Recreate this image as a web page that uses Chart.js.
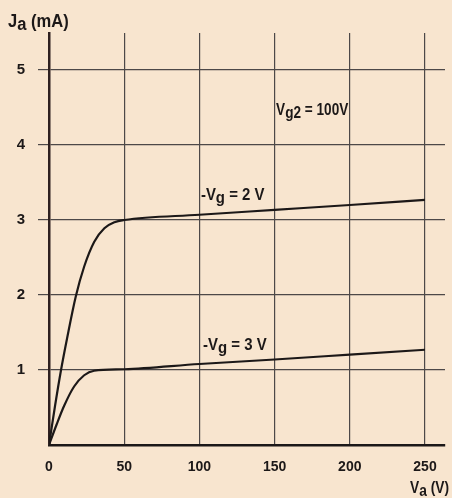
<!DOCTYPE html>
<html><head><meta charset="utf-8">
<script src="https://cdn.jsdelivr.net/npm/chart.js@4"></script>
<style>html,body{margin:0;padding:0;background:#f8e5cf;overflow:hidden}#wrap{width:452px;height:498px}</style>
</head><body><div id="wrap"><canvas id="c" width="452" height="498"></canvas></div>
<script>
// ---- data ----
const vaCurve2 = [0, 4, 8, 12, 17.8, 23.4, 30.1, 36.8, 43.5, 50, 100, 150, 200, 250];
const jaCurve2 = [0, 0.52, 1.0, 1.42, 1.98, 2.38, 2.71, 2.89, 2.97, 3.0, 3.07, 3.135, 3.2, 3.267];
const vaCurve3 = [0, 5, 10, 16.7, 23.4, 30, 50, 100, 150, 200, 250];
const jaCurve3 = [0, 0.27, 0.52, 0.78, 0.93, 0.99, 1.01, 1.08, 1.14, 1.205, 1.27];
const xTicks = [0, 50, 100, 150, 200, 250];
const yTicks = [1, 2, 3, 4, 5];
const seriesNames = ['-Vg = 2 V', '-Vg = 3 V'];

const FONT = "'Liberation Sans','Arimo',Arial,sans-serif";
const INK = '#1c1818';
const GRID = '#4d4848';

const pts = (xs, ys) => xs.map((x, i) => ({x, y: ys[i]}));

// annotations: [text, subscript?] parts placed in data coordinates
const notes = [
  {x: 101, y: 3.26, size: 17, sx: 0.88, parts: [['-V', 0], ['g', 1], [' = 2 V', 0]]},
  {x: 102.4, y: 1.27, size: 17, sx: 0.88, parts: [['-V', 0], ['g', 1], [' = 3 V', 0]]},
  {x: 151, y: 4.4, size: 17, sx: 0.8, parts: [['V', 0], ['g2', 1], [' = 100V', 0]]}
];

function drawParts(ctx, x, y, parts, size, sx) {
  ctx.save();
  ctx.translate(x, y);
  ctx.scale(sx, 1);
  ctx.font = 'bold ' + size + 'px ' + FONT;
  ctx.textBaseline = 'alphabetic';
  ctx.textAlign = 'left';
  ctx.fillStyle = INK;
  let cx = 0;
  for (const [t, sub] of parts) {
    ctx.fillText(t, cx, sub ? 3 : 0);
    cx += ctx.measureText(t).width;
  }
  ctx.restore();
}

const bgPlugin = {
  id: 'bg',
  beforeDraw(chart) {
    const ctx = chart.ctx;
    ctx.save();
    ctx.fillStyle = '#f8e5cf';
    ctx.fillRect(0, 0, chart.width, chart.height);
    ctx.restore();
  }
};

const textPlugin = {
  id: 'texts',
  afterDraw(chart) {
    const ctx = chart.ctx;
    const xs = chart.scales.x, ys = chart.scales.y;
    for (const n of notes) {
      drawParts(ctx, xs.getPixelForValue(n.x), ys.getPixelForValue(n.y), n.parts, n.size, n.sx);
    }
    // axis titles
    drawParts(ctx, 8, 27, [['J', 0], ['a', 1], [' (mA)', 0]], 18, 0.92);
    drawParts(ctx, 410, 493, [['V', 0], ['a', 1], [' (V)', 0]], 16, 0.86);
  }
};

new Chart(document.getElementById('c'), {
  type: 'line',
  data: {
    datasets: [
      {label: seriesNames[0], data: pts(vaCurve2, jaCurve2)},
      {label: seriesNames[1], data: pts(vaCurve3, jaCurve3)}
    ].map(d => Object.assign(d, {
      borderColor: INK, borderWidth: 2.2, pointRadius: 0, fill: false,
      cubicInterpolationMode: 'monotone'
    }))
  },
  options: {
    responsive: false,
    devicePixelRatio: 1,
    animation: false,
    layout: {padding: {left: 0, top: 33, right: 7, bottom: 0}},
    plugins: {legend: {display: false}, tooltip: {enabled: false}},
    scales: {
      x: {
        type: 'linear', min: 0, max: 263.3,
        afterBuildTicks: s => { s.ticks = xTicks.map(v => ({value: v})); },
        afterFit: s => { s.height = 53; },
        ticks: {font: {family: FONT, size: 14, weight: 'bold'}, color: INK, padding: 14,
                maxRotation: 0, autoSkip: false},
        grid: {color: GRID, lineWidth: 1.2, drawTicks: false},
        border: {display: true, color: INK, width: 2.5}
      },
      y: {
        type: 'linear', min: 0, max: 5.493,
        afterBuildTicks: s => { s.ticks = yTicks.map(v => ({value: v})); },
        afterFit: s => { s.width = 49; },
        ticks: {font: {family: FONT, size: 15, weight: 'bold'}, color: INK, padding: 13},
        grid: {color: GRID, lineWidth: 1.2, drawTicks: true, tickLength: 11},
        border: {display: true, color: '#2e2020', width: 2.5}
      }
    }
  },
  plugins: [bgPlugin, textPlugin]
});
</script>
</body></html>
